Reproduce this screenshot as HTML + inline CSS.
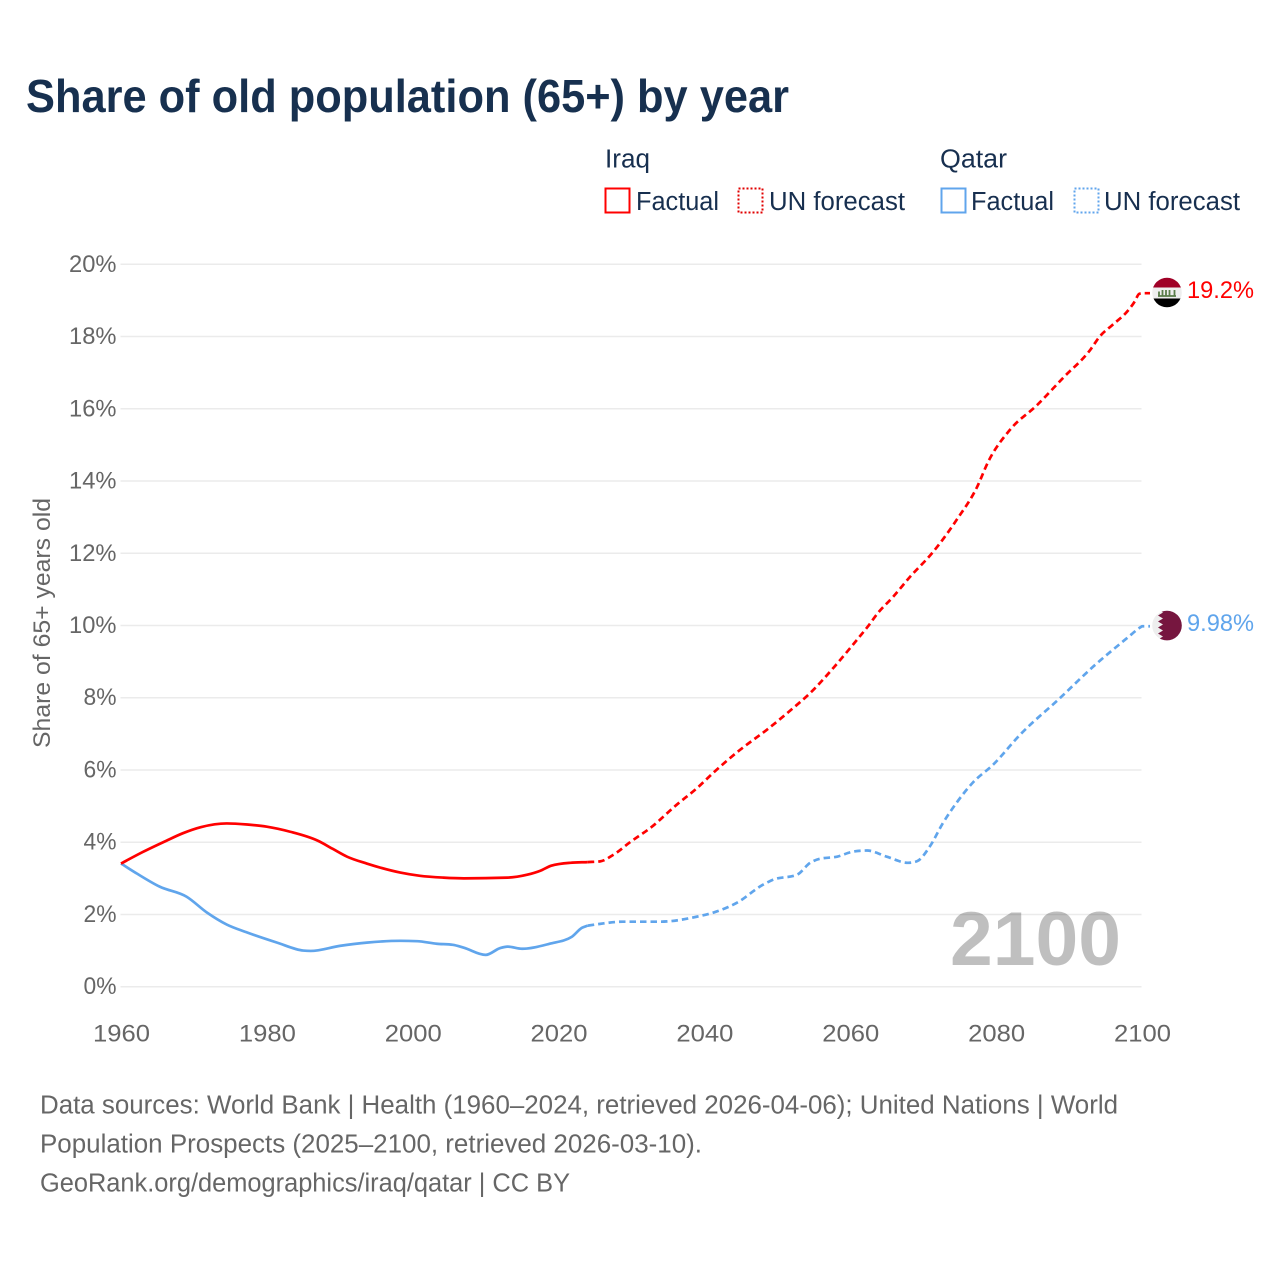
<!DOCTYPE html>
<html lang="en">
<head>
<meta charset="utf-8">
<title>Share of old population (65+) by year</title>
<style>
html,body{margin:0;padding:0;background:#fff;width:1280px;height:1280px;overflow:hidden}
svg{display:block;font-family:"Liberation Sans",sans-serif}
.tick{font-size:24.5px;fill:#666}
.foot{font-size:25.5px;fill:#666}
.leg{font-size:25.5px;fill:#172f4f}
</style>
</head>
<body>
<svg id="chart" width="1280" height="1280" viewBox="0 0 1280 1280" xmlns="http://www.w3.org/2000/svg">
  <defs>
    <clipPath id="flag-clip"><circle cx="0" cy="0" r="14.8"/></clipPath>
  </defs>
  <rect width="1280" height="1280" fill="#fff"/>
  <text x="26" y="112" font-size="46" font-weight="700" fill="#17304f" textLength="763" lengthAdjust="spacingAndGlyphs">Share of old population (65+) by year</text>

  <g>
    <text class="leg" x="605" y="167.5" textLength="45" lengthAdjust="spacingAndGlyphs">Iraq</text>
    <text class="leg" x="940" y="167.5" textLength="67" lengthAdjust="spacingAndGlyphs">Qatar</text>
    <rect x="605.5" y="188.5" width="24" height="24" fill="none" stroke="#ff0000" stroke-width="2"/>
    <text class="leg" x="636" y="210" textLength="83" lengthAdjust="spacingAndGlyphs">Factual</text>
    <rect x="738.5" y="188.5" width="24" height="24" fill="none" stroke="#e00000" stroke-width="2" stroke-dasharray="2 2"/>
    <text class="leg" x="769" y="210" textLength="136" lengthAdjust="spacingAndGlyphs">UN forecast</text>
    <rect x="941.5" y="188.5" width="24" height="24" fill="none" stroke="#60a5ec" stroke-width="2"/>
    <text class="leg" x="971" y="210" textLength="83" lengthAdjust="spacingAndGlyphs">Factual</text>
    <rect x="1074.5" y="188.5" width="24" height="24" fill="none" stroke="#60a5ec" stroke-width="2" stroke-dasharray="2 2"/>
    <text class="leg" x="1104" y="210" textLength="136" lengthAdjust="spacingAndGlyphs">UN forecast</text>
  </g>

  <g id="grid"></g>
  <g id="yticks"></g>
  <g id="xticks"></g>
  <text transform="translate(50,623) rotate(-90)" text-anchor="middle" font-size="24.5" fill="#666" textLength="250" lengthAdjust="spacingAndGlyphs">Share of 65+ years old</text>

  <text id="year-watermark" x="950" y="965" font-size="76" font-weight="700" fill="#000" fill-opacity="0.25" textLength="171" lengthAdjust="spacingAndGlyphs">2100</text>

  <g id="series"></g>

  <g id="flag-iraq">
    <g clip-path="url(#flag-clip)">
      <rect x="-16" y="-16" width="32" height="11" fill="#a00027"/>
      <rect x="-16" y="-5" width="32" height="11" fill="#eeeeee"/>
      <rect x="-16" y="6" width="32" height="11" fill="#000"/>
      <path d="M-9 3.5h18M-8 -1v4M-4.5 -2.5v6M-1 -2.5v6M2.5 -2.5v6M7.5 -2.5v6" stroke="#5a7d4a" stroke-width="1.8" fill="none"/>
    </g>
  </g>
  <g id="flag-qatar">
    <g clip-path="url(#flag-clip)">
      <rect x="-16" y="-16" width="32" height="32" fill="#eeeeee"/>
      <polygon fill="#76163f" points="16,-16 -9,-16 -4,-13 -9,-10 -4,-7 -9,-4 -4,-1 -9,2 -4,5 -9,8 -4,11 -9,14 -4,16 16,16"/>
    </g>
  </g>
  <text id="label-iraq" x="1187" font-size="24.5" fill="#ff0000" textLength="67" lengthAdjust="spacingAndGlyphs"></text>
  <text id="label-qatar" x="1187" font-size="24.5" fill="#60a5ec" textLength="67" lengthAdjust="spacingAndGlyphs"></text>

  <g>
    <text class="foot" x="40" y="1113.5" textLength="1078" lengthAdjust="spacingAndGlyphs">Data sources: World Bank | Health (1960–2024, retrieved 2026-04-06); United Nations | World</text>
    <text class="foot" x="40" y="1152.5" textLength="662" lengthAdjust="spacingAndGlyphs">Population Prospects (2025–2100, retrieved 2026-03-10).</text>
    <text class="foot" x="40" y="1191.5" textLength="530" lengthAdjust="spacingAndGlyphs">GeoRank.org/demographics/iraq/qatar | CC BY</text>
  </g>
</svg>
<script>
const yTickValues = [0, 2, 4, 6, 8, 10, 12, 14, 16, 18, 20];
const xTickYears = [1960, 1980, 2000, 2020, 2040, 2060, 2080, 2100];

const iraqFactualYears = [1960, 1963, 1966, 1968.5, 1971, 1974.5, 1977.3, 1980, 1983.2, 1987, 1989, 1991, 1993.7, 1998.3, 2001, 2004.2, 2007, 2013, 2015.7, 2017.5, 2019, 2021.6, 2024];
const iraqFactualValues = [3.41, 3.73, 4.02, 4.25, 4.42, 4.52, 4.49, 4.43, 4.29, 4.04, 3.82, 3.6, 3.41, 3.16, 3.07, 3.02, 3.0, 3.02, 3.1, 3.21, 3.35, 3.43, 3.45];

const iraqForecastYears = [2024, 2025.7, 2027.5, 2029.8, 2032.8, 2036.2, 2039, 2041.2, 2044.9, 2048.6, 2052.2, 2054.5, 2057.7, 2060.9, 2062.4, 2063.8, 2065.9, 2068.2, 2071.2, 2074.6, 2077.4, 2078.9, 2081.9, 2085.6, 2089.2, 2092.9, 2094.2, 2096, 2098, 2099, 2099.6, 2100];
const iraqForecastValues = [3.45, 3.47, 3.65, 4.0, 4.43, 5.04, 5.5, 5.92, 6.56, 7.12, 7.72, 8.13, 8.83, 9.6, 9.97, 10.35, 10.8, 11.35, 12.0, 12.93, 13.84, 14.53, 15.42, 16.1, 16.86, 17.63, 18.0, 18.33, 18.7, 18.97, 19.18, 19.2];

const qatarFactualYears = [1960, 1962.2, 1965.3, 1969, 1971.8, 1974.5, 1977.3, 1981.4, 1985, 1986, 1990, 1993.7, 1998.3, 2000.6, 2003.3, 2005.5, 2007, 2010, 2012, 2013, 2015, 2018.8, 2021.8, 2023.2, 2024];
const qatarFactualValues = [3.41, 3.13, 2.77, 2.49, 2.05, 1.72, 1.5, 1.22, 1.0, 0.99, 1.13, 1.22, 1.27, 1.26, 1.19, 1.16, 1.08, 0.88, 1.07, 1.11, 1.05, 1.19, 1.38, 1.63, 1.69];

const qatarForecastYears = [2024, 2025.7, 2028.8, 2033.9, 2039, 2041.2, 2044.5, 2048, 2049.4, 2052.7, 2054.5, 2055.8, 2058.2, 2060.4, 2062.3, 2065, 2067.9, 2069.1, 2070.9, 2072.7, 2074.6, 2076.8, 2079.6, 2083.3, 2088.8, 2093.3, 2098, 2099.7, 2100];
const qatarForecastValues = [1.69, 1.74, 1.8, 1.8, 1.94, 2.05, 2.33, 2.82, 2.96, 3.1, 3.43, 3.54, 3.6, 3.74, 3.77, 3.6, 3.43, 3.47, 3.88, 4.53, 5.1, 5.65, 6.15, 6.98, 8.0, 8.86, 9.66, 9.94, 9.98];

const iraqEndLabel = "19.2%";
const qatarEndLabel = "9.98%";

const NS = "http://www.w3.org/2000/svg";
function xScale(year) { return 121 + (year - 1960) * (1142 - 121) / 140; }
function yScale(v) { return 986.7 - v * 36.12; }

function monotonePath(years, values, extendTo) {
  const xs = years.map(xScale);
  const ys = values.map(yScale);
  const n = xs.length;
  const slopes = [];
  for (let i = 0; i < n - 1; i++) slopes.push((ys[i + 1] - ys[i]) / (xs[i + 1] - xs[i]));
  const t = [slopes[0]];
  for (let i = 1; i < n - 1; i++) {
    if (slopes[i - 1] * slopes[i] <= 0) { t.push(0); continue; }
    const h0 = xs[i] - xs[i - 1], h1 = xs[i + 1] - xs[i];
    const p = (slopes[i - 1] * h1 + slopes[i] * h0) / (h0 + h1);
    const m = Math.min(Math.abs(slopes[i - 1]), Math.abs(slopes[i]), Math.abs(p) / 2) * 2;
    t.push(Math.sign(p) * m);
  }
  t.push(slopes[n - 2]);
  let d = "M" + xs[0].toFixed(2) + " " + ys[0].toFixed(2);
  for (let i = 0; i < n - 1; i++) {
    const h = (xs[i + 1] - xs[i]) / 3;
    d += "C" + (xs[i] + h).toFixed(2) + " " + (ys[i] + t[i] * h).toFixed(2) + " " +
      (xs[i + 1] - h).toFixed(2) + " " + (ys[i + 1] - t[i + 1] * h).toFixed(2) + " " +
      xs[i + 1].toFixed(2) + " " + ys[i + 1].toFixed(2);
  }
  if (extendTo) d += "L" + extendTo + " " + ys[n - 1].toFixed(2);
  return d;
}

const gridGroup = document.getElementById("grid");
const yTickGroup = document.getElementById("yticks");
const xTickGroup = document.getElementById("xticks");
const seriesGroup = document.getElementById("series");

yTickValues.forEach(function (v) {
  const line = document.createElementNS(NS, "line");
  
  
  line.setAttribute("x1", 120.5);
  line.setAttribute("x2", 1141.5);
  line.setAttribute("y1", yScale(v));
  line.setAttribute("y2", yScale(v));
  line.setAttribute("stroke", "#ebebeb");
  line.setAttribute("stroke-width", "1.5");
  gridGroup.appendChild(line);

  const label = document.createElementNS(NS, "text");
  
  
  label.setAttribute("class", "tick");
  label.setAttribute("x", 116.5);
  label.setAttribute("y", yScale(v) + 7.5);
  label.setAttribute("text-anchor", "end");
  label.setAttribute("textLength", v >= 10 ? 47.5 : 33);
  label.setAttribute("lengthAdjust", "spacingAndGlyphs");
  label.textContent = v + "%";
  yTickGroup.appendChild(label);
});

xTickYears.forEach(function (yr) {
  const label = document.createElementNS(NS, "text");
  
  
  label.setAttribute("class", "tick");
  label.setAttribute("x", xScale(yr) + 0.5);
  label.setAttribute("y", 1041.5);
  label.setAttribute("text-anchor", "middle");
  label.setAttribute("textLength", 57);
  label.setAttribute("lengthAdjust", "spacingAndGlyphs");
  label.textContent = yr;
  xTickGroup.appendChild(label);
});

function drawLine(name, years, values, color, dashed, extendTo) {
  const path = document.createElementNS(NS, "path");
  
  
  path.setAttribute("d", monotonePath(years, values, extendTo));
  path.setAttribute("fill", "none");
  path.setAttribute("stroke", color);
  path.setAttribute("stroke-width", "2.7");
  path.setAttribute("stroke-linejoin", "round");
  if (dashed) path.setAttribute("stroke-dasharray", "6.5 4");
  seriesGroup.appendChild(path);
}

drawLine("qatar-forecast-line", qatarForecastYears, qatarForecastValues, "#60a5ec", true, 1150);
drawLine("qatar-factual-line", qatarFactualYears, qatarFactualValues, "#60a5ec", false);
drawLine("iraq-forecast-line", iraqForecastYears, iraqForecastValues, "#ff0000", true, 1150);
drawLine("iraq-factual-line", iraqFactualYears, iraqFactualValues, "#ff0000", false);

const iraqEndY = yScale(iraqForecastValues[iraqForecastValues.length - 1]);
const qatarEndY = yScale(qatarForecastValues[qatarForecastValues.length - 1]);
document.getElementById("flag-iraq").setAttribute("transform", "translate(1167," + (iraqEndY - 0.7) + ")");
document.getElementById("flag-qatar").setAttribute("transform", "translate(1167," + (qatarEndY - 0.7) + ")");
const iraqLabel = document.getElementById("label-iraq");
iraqLabel.setAttribute("y", iraqEndY + 5);
iraqLabel.textContent = iraqEndLabel;
const qatarLabel = document.getElementById("label-qatar");
qatarLabel.setAttribute("y", qatarEndY + 5);
qatarLabel.textContent = qatarEndLabel;
</script>
</body>
</html>
